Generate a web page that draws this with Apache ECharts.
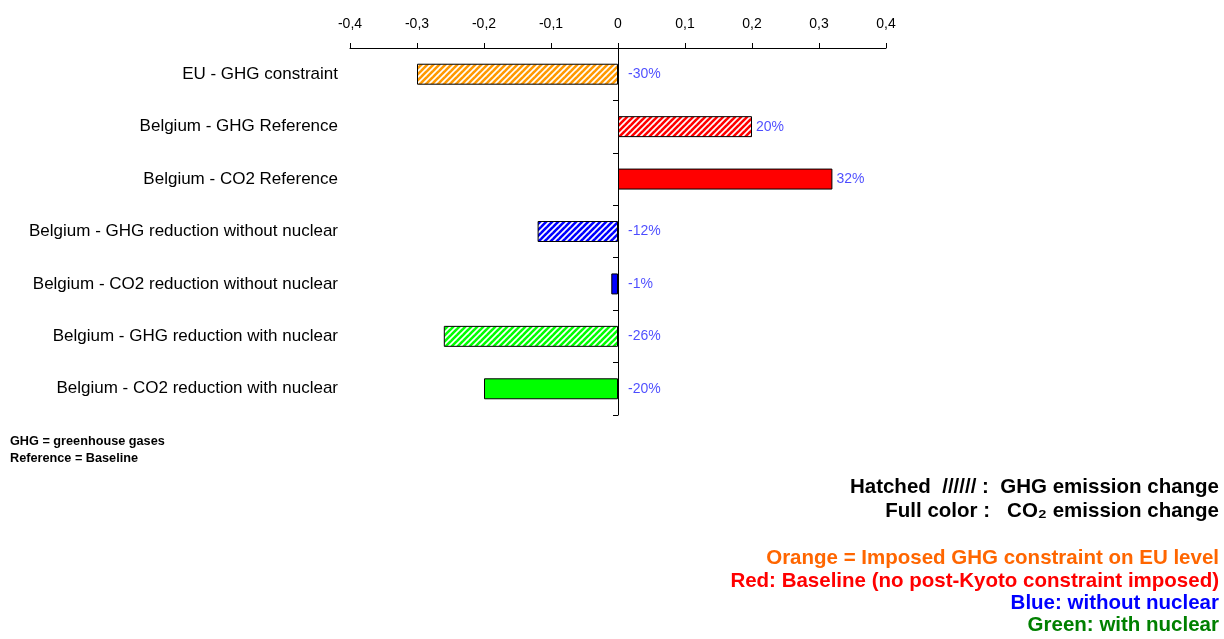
<!DOCTYPE html>
<html>
<head>
<meta charset="utf-8">
<script src="https://cdn.jsdelivr.net/npm/echarts@6/dist/echarts.min.js"></script>
<style>html,body{margin:0;padding:0;background:#fff}#c{width:1224px;height:639px}</style>
</head>
<body>
<div id="c"></div>
<script>
const categories = [
  'EU - GHG constraint',
  'Belgium - GHG Reference',
  'Belgium - CO2 Reference',
  'Belgium - GHG reduction without nuclear',
  'Belgium - CO2 reduction without nuclear',
  'Belgium - GHG reduction with nuclear',
  'Belgium - CO2 reduction with nuclear'
];
const values = [-0.30, 0.20, 0.32, -0.12, -0.01, -0.26, -0.20];
const barColors = ['#FF9900', '#FF0000', '#FF0000', '#0000FF', '#0000FF', '#00FF00', '#00FF00'];
const hatched = [true, true, false, true, false, true, false];
const xTicks = { min: -0.4, max: 0.4, interval: 0.1 };

const FONT = "'Liberation Sans', Arial, sans-serif";

function hatch(color) {
  const p = 6;
  const cv = document.createElement('canvas');
  cv.width = p; cv.height = p;
  const ctx = cv.getContext('2d');
  ctx.fillStyle = '#fff';
  ctx.fillRect(0, 0, p, p);
  ctx.strokeStyle = color;
  ctx.lineWidth = 2.6;
  for (let k = -1; k <= 1; k++) {
    ctx.beginPath();
    ctx.moveTo(k * p - 1, p + 1);
    ctx.lineTo(k * p + p + 1, -1);
    ctx.stroke();
  }
  return { image: cv, repeat: 'repeat' };
}

const barData = values.map((v, i) => ({
  value: v,
  itemStyle: {
    color: hatched[i] ? hatch(barColors[i]) : barColors[i],
    borderColor: '#000',
    borderWidth: 1
  }
}));

const labelData = values.map((v, i) => ({
  value: [Math.max(v, 0), i],
  label: { distance: v >= 0 ? 4 : 10 }
}));

const chart = echarts.init(document.getElementById('c'));
chart.setOption({
  animation: false,
  backgroundColor: '#fff',
  textStyle: { fontFamily: FONT },
  grid: { left: 350, right: 338, top: 48, height: 367 },
  xAxis: {
    type: 'value',
    position: 'top',
    min: xTicks.min, max: xTicks.max, interval: xTicks.interval,
    axisLine: { show: true, onZero: false, lineStyle: { color: '#000', width: 1 } },
    axisTick: { show: true, length: 5, lineStyle: { color: '#000' } },
    splitLine: { show: false },
    axisLabel: {
      color: '#000', fontSize: 14, fontFamily: FONT, margin: 17,
      formatter: v => v === 0 ? '0' : v.toFixed(1).replace('.', ',')
    }
  },
  yAxis: [
    {
      type: 'category', data: categories, inverse: true,
      axisLine: { show: false, onZero: false },
      axisTick: { show: false },
      axisLabel: { color: '#000', fontSize: 17, fontFamily: FONT, margin: 12 }
    },
    {
      type: 'category', data: categories, inverse: true,
      position: 'left',
      axisLine: { show: true, onZero: true, lineStyle: { color: '#000', width: 1 } },
      axisTick: { show: true, length: 5, lineStyle: { color: '#000' } },
      axisLabel: { show: false }
    }
  ],
  series: [
    {
      type: 'bar', yAxisIndex: 0, data: barData, barWidth: '40%',
      silent: true
    },
    {
      type: 'scatter', yAxisIndex: 0, data: labelData, symbolSize: 0, silent: true,
      label: {
        show: true, position: 'right', color: '#1F1FFF', fontSize: 14, fontFamily: FONT,
        formatter: p => Math.round(values[p.dataIndex] * 100) + '%'
      }
    }
  ],
  graphic: [
    { type: 'text', left: 10, top: 435, style: { text: 'GHG = greenhouse gases', font: 'bold 12.7px ' + FONT, fill: '#000' } },
    { type: 'text', left: 10, top: 452, style: { text: 'Reference = Baseline', font: 'bold 12.7px ' + FONT, fill: '#000' } },
    { type: 'text', right: 5, top: 477, style: { text: 'Hatched  ////// :  GHG emission change', font: 'bold 20.5px ' + FONT, fill: '#000', align: 'right' } },
    { type: 'text', right: 5, top: 501, style: { text: 'Full color :   CO\u2082 emission change', font: 'bold 20.5px ' + FONT, fill: '#000', align: 'right' } },
    { type: 'text', right: 5, top: 548, style: { text: 'Orange = Imposed GHG constraint on EU level', font: 'bold 20.5px ' + FONT, fill: '#FF6600', align: 'right' } },
    { type: 'text', right: 5, top: 571, style: { text: 'Red: Baseline (no post-Kyoto constraint imposed)', font: 'bold 20.5px ' + FONT, fill: '#FF0000', align: 'right' } },
    { type: 'text', right: 5, top: 593, style: { text: 'Blue: without nuclear', font: 'bold 20.5px ' + FONT, fill: '#0000FF', align: 'right' } },
    { type: 'text', right: 5, top: 615, style: { text: 'Green: with nuclear', font: 'bold 20.5px ' + FONT, fill: '#008000', align: 'right' } }
  ]
});
</script>
</body>
</html>
